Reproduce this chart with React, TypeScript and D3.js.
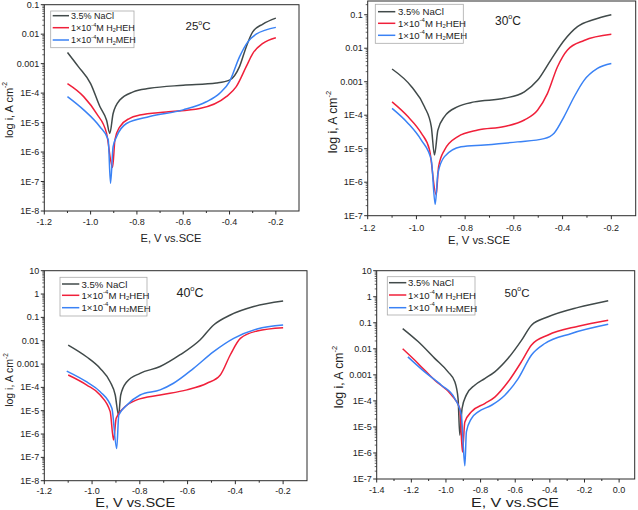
import React from "react";
import * as d3 from "d3";

// ---------- data: [E (V vs SCE), i (A cm^-2)] ----------
const nacl25 = [[-1.1, 2.4e-3], [-1.053, 7.9e-4], [-1.0, 2.1e-4], [-0.96, 3.5e-5], [-0.931, 1.2e-5], [-0.917, 4.3e-6], [-0.903, 2.0e-5], [-0.874, 5.8e-5], [-0.816, 1.1e-4], [-0.745, 1.45e-4], [-0.6, 1.85e-4], [-0.457, 2.2e-4], [-0.4, 2.75e-4], [-0.357, 7.9e-4], [-0.328, 3.7e-3], [-0.3, 1.2e-2], [-0.256, 2.2e-2], [-0.2, 3.5e-2]];
const heh25 = [[-1.1, 2.1e-4], [-1.03, 7.6e-5], [-0.974, 2.0e-5], [-0.931, 4.3e-6], [-0.905, 3.0e-7], [-0.895, 2.6e-6], [-0.874, 7.2e-6], [-0.831, 1.4e-5], [-0.788, 1.8e-5], [-0.673, 2.3e-5], [-0.529, 3.0e-5], [-0.414, 7.6e-5], [-0.371, 1.65e-4], [-0.328, 7.9e-4], [-0.3, 2.2e-3], [-0.256, 4.9e-3], [-0.2, 7.6e-3]];
const meh25 = [[-1.1, 7.6e-5], [-1.03, 2.7e-5], [-0.96, 7.2e-6], [-0.924, 2.6e-6], [-0.914, 8.7e-8], [-0.903, 1.5e-6], [-0.888, 3.3e-6], [-0.845, 9.3e-6], [-0.745, 1.6e-5], [-0.6, 2.7e-5], [-0.5, 5.1e-5], [-0.443, 9.8e-5], [-0.4, 2.45e-4], [-0.357, 1.7e-3], [-0.321, 5.5e-3], [-0.285, 1.0e-2], [-0.242, 1.4e-2], [-0.2, 1.7e-2]];

const nacl30 = [[-1.1, 2.4e-3], [-1.02, 7.1e-4], [-0.967, 1.8e-4], [-0.939, 4.6e-5], [-0.926, 6.5e-6], [-0.912, 3.6e-5], [-0.885, 9.1e-5], [-0.83, 1.8e-4], [-0.762, 2.5e-4], [-0.639, 3.2e-4], [-0.557, 5.0e-4], [-0.503, 1.1e-3], [-0.448, 4.5e-3], [-0.394, 1.7e-2], [-0.339, 4.4e-2], [-0.271, 7.2e-2], [-0.2, 0.1]];
const heh30 = [[-1.1, 2.5e-4], [-1.035, 9.1e-5], [-0.98, 2.9e-5], [-0.946, 9.1e-6], [-0.919, 4.2e-7], [-0.909, 2.9e-6], [-0.885, 9.1e-6], [-0.83, 2.3e-5], [-0.748, 3.6e-5], [-0.639, 4.6e-5], [-0.557, 7.2e-5], [-0.503, 1.4e-4], [-0.462, 4.5e-4], [-0.421, 2.8e-3], [-0.38, 8.9e-3], [-0.312, 1.7e-2], [-0.2, 2.6e-2]];
const meh30 = [[-1.1, 1.6e-4], [-1.035, 5.8e-5], [-0.98, 1.8e-5], [-0.939, 4.6e-6], [-0.923, 2.2e-7], [-0.912, 1.8e-6], [-0.885, 5.8e-6], [-0.817, 1.15e-5], [-0.721, 1.3e-5], [-0.585, 1.6e-5], [-0.476, 2.0e-5], [-0.435, 2.9e-5], [-0.394, 9.1e-5], [-0.353, 3.5e-4], [-0.312, 1.1e-3], [-0.257, 2.5e-3], [-0.2, 3.5e-3]];

const nacl40 = [[-1.1, 6.5e-3], [-1.022, 2.0e-3], [-0.966, 6.5e-4], [-0.924, 1.7e-4], [-0.903, 4.7e-5], [-0.889, 6.5e-6], [-0.88, 4.7e-5], [-0.855, 1.7e-4], [-0.799, 4.0e-4], [-0.715, 7.8e-4], [-0.631, 2.5e-3], [-0.547, 1.1e-2], [-0.491, 4.7e-2], [-0.421, 0.126], [-0.323, 0.29], [-0.2, 0.5]];
const heh40 = [[-1.1, 3.4e-4], [-1.022, 1.26e-4], [-0.966, 4.7e-5], [-0.924, 9.1e-6], [-0.91, 5.5e-7], [-0.899, 4.7e-6], [-0.869, 1.26e-5], [-0.813, 2.9e-5], [-0.715, 4.7e-5], [-0.603, 7.8e-5], [-0.519, 1.5e-4], [-0.463, 3.4e-4], [-0.421, 2.5e-3], [-0.379, 1.26e-2], [-0.309, 2.6e-2], [-0.2, 3.6e-2]];
const meh40 = [[-1.106, 5.0e-4], [-1.022, 1.7e-4], [-0.966, 6.5e-5], [-0.917, 1.26e-5], [-0.897, 2.4e-7], [-0.888, 6.5e-6], [-0.855, 1.7e-5], [-0.799, 4.7e-5], [-0.715, 7.8e-5], [-0.659, 1.5e-4], [-0.575, 6.5e-4], [-0.491, 3.4e-3], [-0.407, 1.26e-2], [-0.309, 3.2e-2], [-0.2, 4.7e-2]];

const nacl50 = [[-1.25, 6.0e-2], [-1.161, 1.9e-2], [-1.065, 4.3e-3], [-0.988, 1.3e-3], [-0.949, 5.4e-4], [-0.93, 1.2e-4], [-0.92, 4.8e-6], [-0.907, 5.1e-5], [-0.882, 1.7e-4], [-0.834, 4.0e-4], [-0.776, 7.2e-4], [-0.718, 1.3e-3], [-0.641, 4.3e-3], [-0.564, 2.1e-2], [-0.506, 8.1e-2], [-0.41, 0.17], [-0.236, 0.39], [-0.063, 0.7]];
const heh50 = [[-1.25, 1.0e-2], [-1.161, 2.75e-3], [-1.065, 6.2e-4], [-0.968, 1.66e-4], [-0.92, 5.1e-5], [-0.905, 1.1e-6], [-0.891, 1.55e-5], [-0.853, 3.8e-5], [-0.776, 7.9e-5], [-0.718, 1.4e-4], [-0.641, 5.4e-4], [-0.564, 3.2e-3], [-0.506, 1.4e-2], [-0.41, 3.4e-2], [-0.236, 7.4e-2], [-0.063, 0.126]];
const meh50 = [[-1.22, 4.9e-3], [-1.123, 1.3e-3], [-1.026, 4.0e-4], [-0.949, 1.23e-4], [-0.911, 2.8e-5], [-0.891, 3.2e-7], [-0.882, 6.5e-6], [-0.853, 2.1e-5], [-0.814, 3.8e-5], [-0.737, 6.8e-5], [-0.66, 1.66e-4], [-0.583, 7.2e-4], [-0.506, 5.8e-3], [-0.429, 1.6e-2], [-0.275, 3.9e-2], [-0.063, 8.7e-2]];

const temperatures = ["25", "30", "40", "50"];
const seriesColors = ["#414a4a", "#f0203a", "#3a82f5"];

const xTicksA = [-1.2, -1.0, -0.8, -0.6, -0.4, -0.2];
const xTickLabelsA = ["-1.2", "-1.0", "-0.8", "-0.6", "-0.4", "-0.2"];
const xTicksB = [-1.4, -1.2, -1.0, -0.8, -0.6, -0.4, -0.2, 0.0];
const xTickLabelsB = ["-1.4", "-1.2", "-1.0", "-0.8", "-0.6", "-0.4", "-0.2", "0.0"];

const yTicks25 = [1e-8, 1e-7, 1e-6, 1e-5, 1e-4, 1e-3, 1e-2, 1e-1];
const yTickLabels25 = ["1E-8", "1E-7", "1E-6", "1E-5", "1E-4", "0.001", "0.01", "0.1"];
const yTicks30 = [1e-7, 1e-6, 1e-5, 1e-4, 1e-3, 1e-2, 1e-1];
const yTickLabels30 = ["1E-7", "1E-6", "1E-5", "1E-4", "0.001", "0.01", "0.1"];
const yTicks40 = [1e-8, 1e-7, 1e-6, 1e-5, 1e-4, 1e-3, 1e-2, 1e-1, 1, 10];
const yTickLabels40 = ["1E-8", "1E-7", "1E-6", "1E-5", "1E-4", "0.001", "0.01", "0.1", "1", "10"];
const yTicks50 = [1e-7, 1e-6, 1e-5, 1e-4, 1e-3, 1e-2, 1e-1, 1, 10];
const yTickLabels50 = ["1E-7", "1E-6", "1E-5", "1E-4", "0.001", "0.01", "0.1", "1", "10"];

// ---------- layout ----------
const panels = [
  {
    temp: temperatures[0], series: [nacl25, heh25, meh25],
    xDomain: [-1.2, -0.1], yDomain: [1e-8, 0.1],
    left: 44.3, right: 299, top: 4.7, bottom: 211,
    xTicks: xTicksA, xLabels: xTickLabelsA, yTicks: yTicks25, yLabels: yTickLabels25,
    xLabelY: 221.5, xTitle: { x: 171, y: 238, size: 10.5, len: 61 }, yTitle: { x: 8.5, y: 110, size: 11 },
    temp_: { x: 198, y: 26, size: 11.5 },
    legend: { x0: 50.7, x1: 134, y0: 11, y1: 47.7, lx0: 52.7, lx1: 69, tx: 71, rows: [15.7, 27.7, 40], size: 9 },
  },
  {
    temp: temperatures[1], series: [nacl30, heh30, meh30],
    xDomain: [-1.2, -0.1], yDomain: [1e-7, 0.257],
    left: 367.7, right: 635.7, top: 1, bottom: 215.7,
    xTicks: xTicksA, xLabels: xTickLabelsA, yTicks: yTicks30, yLabels: yTickLabels30,
    xLabelY: 227.5, xTitle: { x: 479, y: 239.5, size: 10.8, len: 62 }, yTitle: { x: 333, y: 122, size: 12.2 },
    temp_: { x: 508, y: 21, size: 12 },
    legend: { x0: 375.3, x1: 463.3, y0: 4.3, y1: 43.3, lx0: 378, lx1: 395.3, tx: 398, rows: [11.7, 23.3, 35.3], size: 9.6 },
  },
  {
    temp: temperatures[2], series: [nacl40, heh40, meh40],
    xDomain: [-1.2, -0.1], yDomain: [1e-8, 10],
    left: 44.3, right: 307, top: 270.7, bottom: 480.7,
    xTicks: xTicksA, xLabels: xTickLabelsA, yTicks: yTicks40, yLabels: yTickLabels40,
    xLabelY: 490.5, xTitle: { x: 135.3, y: 502.5, size: 12, len: 80 }, yTitle: { x: 8.5, y: 380, size: 10.5 },
    temp_: { x: 190, y: 292.7, size: 12.5 },
    legend: { x0: 60, x1: 147, y0: 277.3, y1: 316, lx0: 62, lx1: 79.3, tx: 81.5, rows: [284, 295.3, 307.7], size: 9.6 },
  },
  {
    temp: temperatures[3], series: [nacl50, heh50, meh50],
    xDomain: [-1.4, 0.09], yDomain: [1e-7, 10],
    left: 376.7, right: 634.7, top: 270.7, bottom: 479,
    xTicks: xTicksB, xLabels: xTickLabelsB, yTicks: yTicks50, yLabels: yTickLabels50,
    xLabelY: 489.5, xTitle: { x: 515, y: 502.5, size: 12.5, len: 88 }, yTitle: { x: 338.7, y: 377, size: 12.2 },
    temp_: { x: 517, y: 292.7, size: 11.5 },
    legend: { x0: 387.3, x1: 475, y0: 276.7, y1: 315, lx0: 389, lx1: 406.3, tx: 408, rows: [282.7, 295, 307.7], size: 9.6 },
  },
];

const FONT = "'Liberation Sans', Arial, Helvetica, sans-serif";
const AXIS = "#2b2b2b";

function LegendText({ idx, x, y, size }: any) {
  if (idx === 0) {
    return <text x={x} y={y} fontSize={size} dominantBaseline="central" fill="#222">3.5% NaCl</text>;
  }
  const name = idx === 1 ? "HEH" : "MEH";
  const s = size * 0.62;
  return (
    <text x={x} y={y} fontSize={size} dominantBaseline="central" fill="#222">
      1×10
      <tspan fontSize={s} dy={-size * 0.35}>-4</tspan>
      <tspan dy={size * 0.35}>M H</tspan>
      <tspan fontSize={s} dy={size * 0.28}>2</tspan>
      <tspan dy={-size * 0.28}>{name}</tspan>
    </text>
  );
}

function Panel({ cfg }: any) {
  const x = d3.scaleLinear().domain(cfg.xDomain).range([cfg.left, cfg.right]);
  const y = d3.scaleLog().domain(cfg.yDomain).range([cfg.bottom, cfg.top]);
  const line = d3
    .line<number[]>()
    .x((d) => x(d[0]))
    .y((d) => y(d[1]))
    .curve(d3.curveMonotoneX);

  // minor log ticks
  const minorY: number[] = [];
  const lo = Math.floor(Math.log10(cfg.yDomain[0]));
  const hi = Math.ceil(Math.log10(cfg.yDomain[1]));
  for (let e = lo; e < hi; e++) {
    for (let k = 2; k <= 9; k++) {
      const v = k * Math.pow(10, e);
      if (v > cfg.yDomain[0] && v < cfg.yDomain[1]) minorY.push(v);
    }
  }
  const minorX: number[] = [];
  for (let i = 0; i < cfg.xTicks.length; i++) {
    const v = cfg.xTicks[i] + 0.1;
    if (v < cfg.xDomain[1] - 0.02) minorX.push(v);
  }
  const clipId = "clip" + cfg.temp;
  const lg = cfg.legend;
  return (
    <g>
      <defs>
        <clipPath id={clipId}>
          <rect x={cfg.left} y={cfg.top} width={cfg.right - cfg.left} height={cfg.bottom - cfg.top} />
        </clipPath>
      </defs>
      <g clipPath={`url(#${clipId})`}>
        {cfg.series.map((s: number[][], i: number) => (
          <path key={i} d={line(s) || ""} fill="none" stroke={seriesColors[i]} strokeWidth={1.5} strokeLinejoin="round" />
        ))}
      </g>
      <rect x={cfg.left} y={cfg.top} width={cfg.right - cfg.left} height={cfg.bottom - cfg.top} fill="none" stroke={AXIS} strokeWidth={1} />
      {/* y ticks */}
      {cfg.yTicks.map((v: number, i: number) => (
        <g key={"y" + i}>
          <line x1={cfg.left - 3.5} x2={cfg.left} y1={y(v)} y2={y(v)} stroke={AXIS} strokeWidth={1} />
          <text x={cfg.left - 5} y={y(v)} fontSize={9} textAnchor="end" dominantBaseline="central" fill="#222">
            {cfg.yLabels[i]}
          </text>
        </g>
      ))}
      {minorY.map((v, i) => (
        <line key={"ym" + i} x1={cfg.left - 2} x2={cfg.left} y1={y(v)} y2={y(v)} stroke={AXIS} strokeWidth={0.7} />
      ))}
      {/* x ticks */}
      {cfg.xTicks.map((v: number, i: number) => (
        <g key={"x" + i}>
          <line x1={x(v)} x2={x(v)} y1={cfg.bottom} y2={cfg.bottom + 3.5} stroke={AXIS} strokeWidth={1} />
          <text x={x(v)} y={cfg.xLabelY} fontSize={9} textAnchor="middle" dominantBaseline="central" fill="#222">
            {cfg.xLabels[i]}
          </text>
        </g>
      ))}
      {minorX.map((v, i) => (
        <line key={"xm" + i} x1={x(v)} x2={x(v)} y1={cfg.bottom} y2={cfg.bottom + 2} stroke={AXIS} strokeWidth={1} />
      ))}
      {/* titles */}
      <text
        x={cfg.xTitle.x}
        y={cfg.xTitle.y}
        fontSize={cfg.xTitle.size}
        textAnchor="middle"
        dominantBaseline="central"
        fill="#222"
        textLength={cfg.xTitle.len}
        lengthAdjust="spacingAndGlyphs"
      >
        E, V vs.SCE
      </text>
      <text
        transform={`translate(${cfg.yTitle.x},${cfg.yTitle.y}) rotate(-90)`}
        fontSize={cfg.yTitle.size}
        textAnchor="middle"
        dominantBaseline="central"
        fill="#222"
      >
        log i, A cm
        <tspan fontSize={cfg.yTitle.size * 0.62} dy={-cfg.yTitle.size * 0.38}>-2</tspan>
      </text>
      <text x={cfg.temp_.x} y={cfg.temp_.y} fontSize={cfg.temp_.size} textAnchor="middle" dominantBaseline="central" fill="#222">
        {cfg.temp}
        <tspan fontSize={cfg.temp_.size * 0.6} dy={-cfg.temp_.size * 0.38}>o</tspan>
        <tspan dy={cfg.temp_.size * 0.38}>C</tspan>
      </text>
      {/* legend */}
      <rect x={lg.x0} y={lg.y0} width={lg.x1 - lg.x0} height={lg.y1 - lg.y0} fill="#fff" stroke="#aaa" strokeWidth={0.8} />
      {lg.rows.map((ry: number, i: number) => (
        <g key={"lg" + i}>
          <line x1={lg.lx0} x2={lg.lx1} y1={ry} y2={ry} stroke={seriesColors[i]} strokeWidth={1.5} />
          <LegendText idx={i} x={lg.tx} y={ry} size={lg.size} />
        </g>
      ))}
    </g>
  );
}

export default function App() {
  return (
    <svg
      width={638}
      height={510}
      viewBox="0 0 638 510"
      style={{ position: "absolute", left: 0, top: 0, background: "#fff", fontFamily: FONT }}
    >
      <rect x={0} y={0} width={638} height={510} fill="#fff" />
      {panels.map((p, i) => (
        <Panel key={i} cfg={p} />
      ))}
    </svg>
  );
}
